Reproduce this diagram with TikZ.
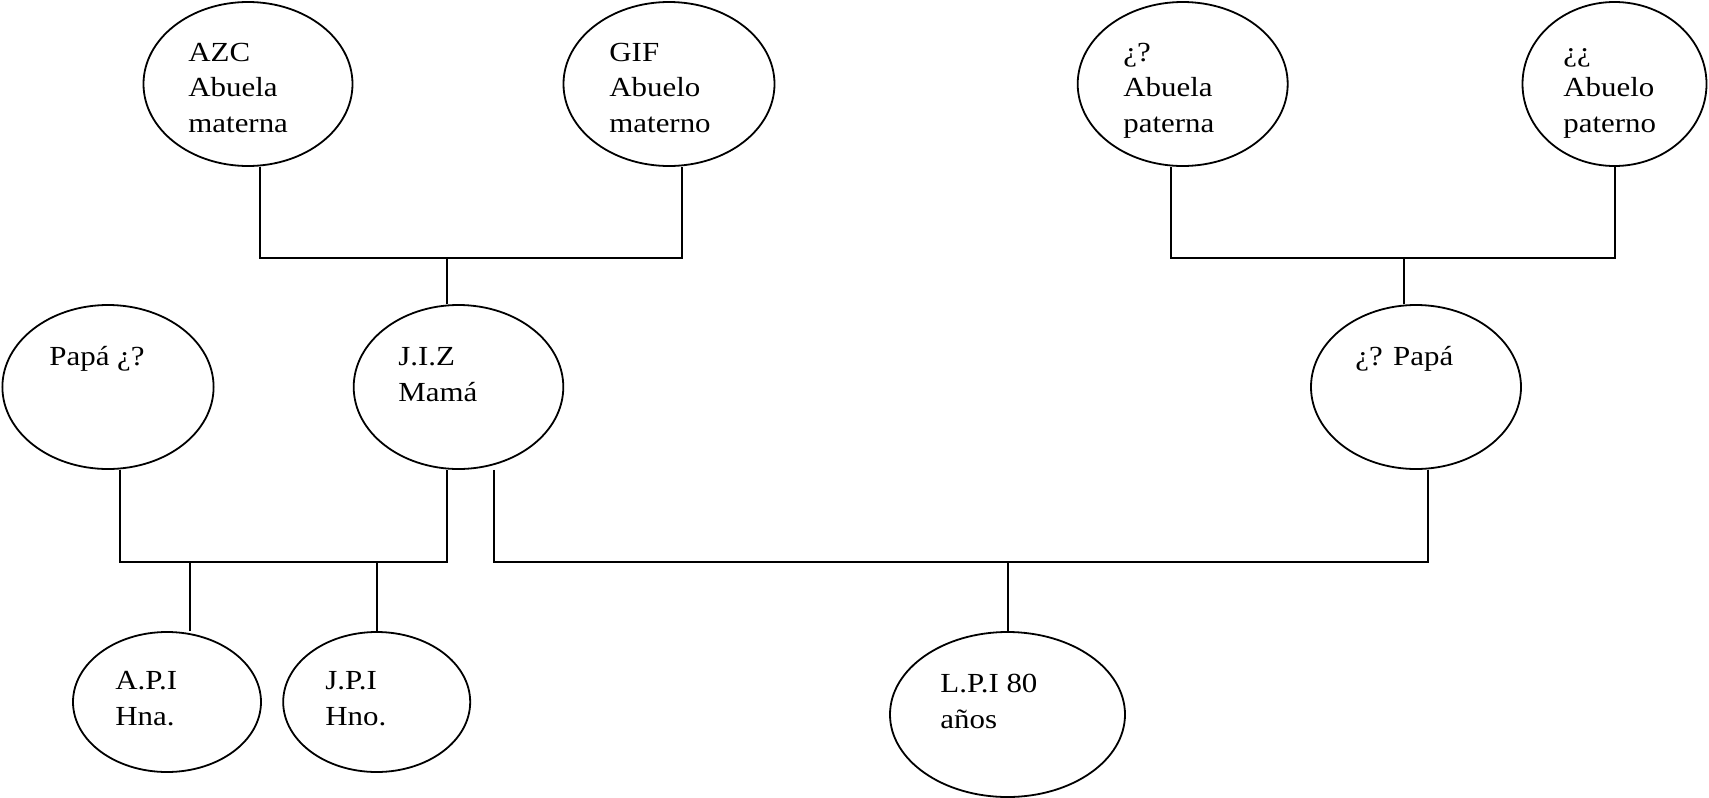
\documentclass[tikz,border=0pt]{standalone}
\usepackage{fontspec}
\setmainfont{Liberation Serif}[FakeStretch=1.12]
\usetikzlibrary{shapes.geometric}
\begin{document}
\begin{tikzpicture}[x=0.5pt,y=-0.5pt,
  person/.style={draw,ellipse,line width=0.9pt,inner sep=0pt},
  lbl/.style={anchor=base west,inner sep=0pt,align=left,font=\fontsize{13.8}{17.75}\selectfont},
  link/.style={line width=1pt}]
\useasboundingbox (0,0) rectangle (1709,798);
% ellipses
\node[person,minimum width=104.5pt,minimum height=82pt] (azc) at (248,84) {};
\node[person,minimum width=105.5pt,minimum height=82pt] (gif) at (669,84) {};
\node[person,minimum width=105pt,minimum height=82pt] (abp) at (1182.7,84) {};
\node[person,minimum width=92pt,minimum height=82pt] (aop) at (1614.5,84) {};
\node[person,minimum width=105.6pt,minimum height=82pt] (pa) at (108,387) {};
\node[person,minimum width=104.8pt,minimum height=82pt] (jiz) at (458.5,387) {};
\node[person,minimum width=105pt,minimum height=82pt] (pp) at (1416,387) {};
\node[person,minimum width=94pt,minimum height=70pt] (api) at (167,702) {};
\node[person,minimum width=93.5pt,minimum height=70pt] (jpi) at (376.7,702) {};
\node[person,minimum width=117.5pt,minimum height=82.5pt] (lpi) at (1007.5,714.5) {};
% labels (anchored at the baseline of the last line)
\node[lbl] (tazc) at (188,132) {AZC\\Abuela\\materna};
\node[lbl] (tgif) at (609,132) {GIF\\Abuelo\\materno};
\node[lbl] (tabp) at (1123,132) {¿?\\Abuela\\paterna};
\node[lbl] (taop) at (1563,132) {¿¿\\Abuelo\\paterno};
\node[lbl] (tpa) at (49,365) {Papá ¿?};
\node[lbl] (tjiz) at (398,401) {J.I.Z\\Mamá};
\node[lbl] (tpp) at (1355,365) {¿? Papá};
\node[lbl] (tapi) at (115,725) {A.P.I\\Hna.};
\node[lbl] (tjpi) at (325,725) {J.P.I\\Hno.};
\node[lbl] (tlpi) at (940,728) {L.P.I 80\\años};
% junction levels
\coordinate (jm) at (447,258);
\coordinate (jp) at (1404,258);
\coordinate (sib) at (300,562);
% maternal grandparents
\draw[link] ([xshift=6pt]azc.south) |- (jm) -| ([xshift=6.5pt]gif.south);
\draw[link] (jm) -- (jm |- jiz.north);
% paternal grandparents
\draw[link] ([xshift=-5.85pt]abp.south) |- (jp) -| ([xshift=0.25pt]aop.south);
\draw[link] (jp) -- (jp |- pp.north);
% siblings family
\draw[link] ([xshift=6pt]pa.south) -- ([xshift=6pt]pa.south |- sib) -- ([xshift=-5.75pt]jiz.south |- sib) -- ([xshift=-5.75pt]jiz.south);
\draw[link] ([xshift=11.5pt]api.north) -- ([xshift=11.5pt]api.north |- sib);
\draw[link] ([xshift=0.15pt]jpi.north) -- ([xshift=0.15pt]jpi.north |- sib);
% L.P.I family
\draw[link] ([xshift=17.75pt]jiz.south) -- ([xshift=17.75pt]jiz.south |- sib) -- ([xshift=6pt]pp.south |- sib) -- ([xshift=6pt]pp.south);
\draw[link] ([xshift=0.25pt]lpi.north) -- ([xshift=0.25pt]lpi.north |- sib);
\end{tikzpicture}
\end{document}
